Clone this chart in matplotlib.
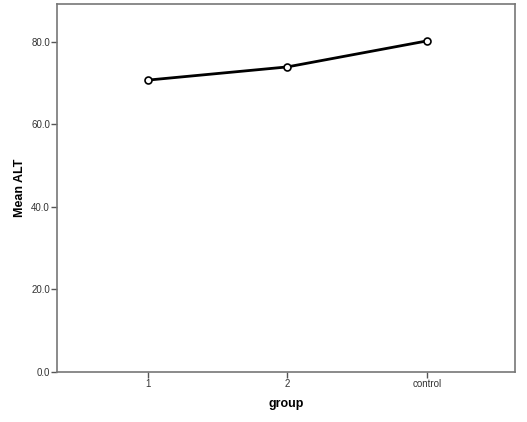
import matplotlib
matplotlib.use("Agg")
import matplotlib.pyplot as plt

groups = ["1", "2", "control"]
mean_alt = [70.7, 73.9, 80.2]
yticks = [0.0, 20.0, 40.0, 60.0, 80.0]

plt.rcParams['font.family'] = ['Liberation Sans', 'DejaVu Sans']

fig = plt.figure(figsize=(5.27, 4.22), dpi=100)
ax = fig.add_axes([0.108, 0.119, 0.869, 0.872])

x = list(range(len(groups)))
ax.plot(x, mean_alt, color='black', linewidth=2, marker='o', markersize=5,
        markerfacecolor='white', markeredgecolor='black', markeredgewidth=1.2)

ax.set_xlim(-0.65, 2.63)
ax.set_ylim(0, 89.2)
ax.set_xticks(x)
ax.set_xticklabels(groups)
ax.set_yticks(yticks)
ax.set_yticklabels([f"{v:.1f}" for v in yticks])

for s in ax.spines.values():
    s.set_color('#777777')
    s.set_linewidth(1.2)
ax.tick_params(axis='both', colors='#555555', labelsize=7, length=4, width=1,
               labelcolor='#333333', pad=1)

ax.set_xlabel("group", fontsize=9, fontweight='bold', labelpad=7)
ax.set_ylabel("Mean ALT", fontsize=9, fontweight='bold', labelpad=4)

fig.savefig("out.png", dpi=100)
